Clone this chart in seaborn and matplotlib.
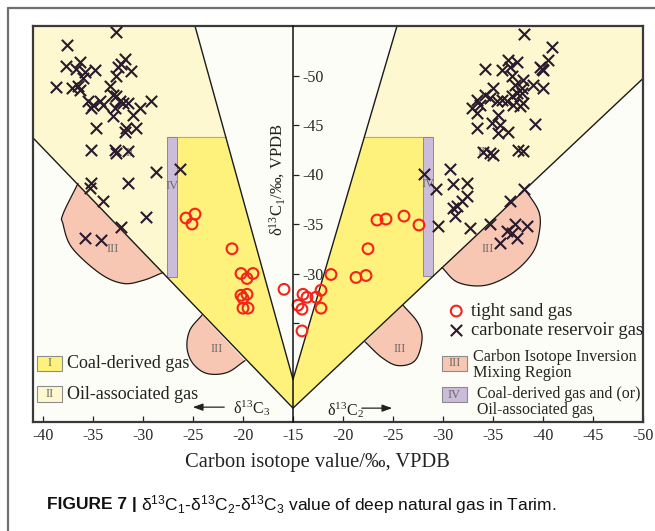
import numpy as np
import pandas as pd
import matplotlib
matplotlib.use("Agg")
import matplotlib.pyplot as plt
import seaborn as sns
from matplotlib.patches import Polygon, Rectangle
from matplotlib.lines import Line2D

# ---------------- data ----------------
# tight sand gas, left half (delta13C3) and right half (delta13C2)
tight_c3 = [-24.8, -25.7, -25.1, -21.1, -20.2, -19.0, -19.6, -20.2, -19.6, -20.0, -20.0, -19.5, -15.9]
tight_c3_c1 = [-36.0, -35.6, -35.0, -32.5, -30.0, -30.0, -29.5, -27.8, -27.9, -27.5, -26.5, -26.5, -28.4]
tight_c2 = [-15.5, -15.9, -16.0, -16.4, -17.3, -17.8, -17.8, -15.9, -18.8, -21.3, -22.3, -22.5,
            -23.4, -24.3, -26.1, -27.6]
tight_c2_c1 = [-26.8, -26.4, -27.9, -27.6, -27.6, -28.3, -26.5, -24.2, -29.9, -29.6, -29.8, -32.5,
               -35.4, -35.5, -35.8, -34.9]

# carbonate reservoir gas
carb_c3 = [-32.7, -37.6, -37.7, -36.3, -36.7, -35.8, -34.8, -36.0, -38.7, -37.1, -36.5, -36.3,
           -31.8, -32.2, -32.5, -31.2, -32.7, -33.3, -33.0, -32.7, -35.5, -35.0, -34.3, -34.0,
           -35.2, -32.3, -32.0, -31.5, -32.8, -30.3, -29.2, -31.0, -33.0, -34.7, -31.7, -30.7,
           -31.8, -35.2, -32.7, -31.5, -32.8, -28.7, -26.3, -35.2, -35.3, -31.5, -34.0, -29.7,
           -32.2, -35.8, -34.2]
carb_c3_c1 = [-54.4, -53.1, -51.0, -51.4, -50.7, -50.4, -50.6, -49.7, -48.8, -48.7, -48.9, -48.5,
              -51.7, -51.2, -50.9, -50.5, -50.0, -48.9, -48.0, -47.9, -47.4, -47.0, -47.4, -47.0,
              -46.7, -47.4, -47.2, -47.2, -46.7, -46.7, -47.4, -46.0, -45.9, -44.7, -44.7, -44.7,
              -44.3, -42.5, -42.2, -42.4, -42.5, -40.3, -40.6, -39.1, -38.6, -39.1, -37.3, -35.7,
              -34.7, -33.6, -33.4]
carb_c2 = [-38.1, -40.9, -34.2, -35.9, -36.5, -37.4, -36.7, -40.5, -39.7, -40.0, -39.9, -36.9,
           -38.0, -37.2, -37.9, -39.0, -40.0, -35.0, -34.2, -34.7, -35.4, -35.9, -36.4, -36.9,
           -37.4, -37.9, -37.0, -37.7, -38.0, -33.4, -32.9, -33.7, -33.4, -35.5, -34.9, -33.4,
           -35.7, -35.5, -36.5, -39.2, -34.0, -34.7, -35.0, -37.5, -38.0, -30.7, -31.0, -32.4,
           -32.4, -31.9, -31.4, -31.0, -31.2, -29.3, -36.7, -38.1, -29.5, -32.7, -34.7, -36.4,
           -37.2, -38.4, -37.4, -35.7, -36.9, -28.1]
carb_c2_c1 = [-54.2, -52.9, -50.7, -50.6, -51.6, -51.4, -50.9, -51.6, -50.9, -50.6, -50.7, -49.9,
              -49.5, -49.0, -48.7, -49.0, -48.7, -48.7, -48.0, -47.7, -47.4, -47.5, -47.4, -47.9,
              -48.2, -48.2, -47.0, -46.9, -47.2, -47.5, -46.7, -47.0, -46.2, -46.0, -45.2, -44.7,
              -45.0, -44.2, -44.3, -45.1, -42.3, -42.2, -42.0, -42.5, -42.4, -40.6, -39.0, -39.1,
              -37.8, -37.3, -36.8, -36.6, -35.8, -38.5, -37.3, -38.5, -34.8, -34.6, -35.0, -34.3,
              -35.0, -34.8, -33.6, -33.1, -34.1, -40.1]

# region boundaries (isotope values)
outer_left = ([-15.0, -41.0], [-16.4, -43.7])     # (d13C3, d13C1)
inner_left = ([-15.0, -24.8], [-19.3, -55.0])
inner_right = ([-15.0, -25.4], [-19.3, -55.0])    # (d13C2, d13C1)
outer_right = ([-15.0, -50.0], [-16.4, -49.7])
coal_top_c1 = -43.8
bar_left_c3 = [-27.6, -26.6]
bar_right_c2 = [-28.0, -29.0]

blob_ul = [(-36.5, -39.1), (-38.0, -36.0), (-38.0, -35.0), (-37.1, -32.6), (-34.3, -30.0),
           (-32.0, -29.0), (-30.0, -29.3), (-28.0, -30.1)]
blob_ll = [(-24.1, -25.8), (-25.3, -24.3), (-25.6, -22.5), (-25.0, -20.9), (-23.6, -19.9),
           (-21.6, -20.0), (-19.8, -21.2)]
blob_ur = [(-38.2, -38.5), (-39.6, -36.2), (-39.6, -34.0), (-38.9, -32.0), (-36.9, -30.0),
           (-34.2, -28.8), (-31.5, -29.1), (-29.9, -30.6)]
blob_lr = [(-26.0, -26.8), (-27.5, -25.0), (-27.9, -23.3), (-27.2, -21.2), (-25.5, -20.7),
           (-23.9, -21.5), (-22.2, -23.1)]

tick_values = [-40, -35, -30, -25, -20, -15, -20, -25, -30, -35, -40, -45, -50]
ytick_values = [-50, -45, -40, -35, -30, -25]
ytick_labels = ["-50", "-45", "-40", "-35", "-30", ""]

# ---------------- helpers ----------------
def c2pos(v):
    """delta13C2 value -> horizontal position on the right half."""
    return -30.0 - np.asarray(v, dtype=float)


def smooth(pts, n=16):
    pts = np.asarray(pts, dtype=float)
    P = np.vstack([2 * pts[0] - pts[1], pts, 2 * pts[-1] - pts[-2]])
    out = []
    t = np.linspace(0, 1, n, endpoint=False)[:, None]
    for i in range(1, len(P) - 2):
        p0, p1, p2, p3 = P[i - 1], P[i], P[i + 1], P[i + 2]
        out.append(0.5 * (2 * p1 + (-p0 + p2) * t + (2 * p0 - 5 * p1 + 4 * p2 - p3) * t ** 2
                          + (-p0 + 3 * p1 - 3 * p2 + p3) * t ** 3))
    out.append(P[-2][None])
    return np.vstack(out)


# ---------------- style ----------------
sns.set_theme(style="white")
plt.rcParams["font.family"] = ["Liberation Serif", "DejaVu Serif"]
plt.rcParams["mathtext.default"] = "regular"

C_COAL = "#fff27c"
C_OIL = "#fdf8cf"
C_MIX = "#f8c7b4"
C_IV = "#cbbcdb"
C_BG = "#fdfdf8"

fig = plt.figure(figsize=(6.55, 5.31), dpi=100)
ax = fig.add_axes([33 / 655, 1 - 422 / 531, 610 / 655, 396 / 531])
ax.set_facecolor(C_BG)
ax.set_xlim(-41, 20)
ax.set_ylim(-15, -55)

# ---- regions, left half (position == d13C3) ----
yo = lambda x: np.interp(x, outer_left[0][::-1], outer_left[1][::-1])
xi_l = np.interp(coal_top_c1, inner_left[1][::-1], inner_left[0][::-1])
ax.add_patch(Polygon([(outer_left[0][1], -55), (inner_left[0][1], -55),
                      (-15, inner_left[1][0]), (-15, outer_left[1][0]),
                      (outer_left[0][1], outer_left[1][1])],
                     closed=True, fc=C_OIL, ec="none", zorder=1))
ax.add_patch(Polygon([(bar_left_c3[0], coal_top_c1), (xi_l, coal_top_c1),
                      (-15, inner_left[1][0]), (-15, outer_left[1][0]),
                      (bar_left_c3[0], yo(bar_left_c3[0]))],
                     closed=True, fc=C_COAL, ec="none", zorder=1.2))
ax.plot([bar_left_c3[0], xi_l], [coal_top_c1, coal_top_c1], color="#a8a8a0", lw=0.8, zorder=1.3)
ax.add_patch(Rectangle((bar_left_c3[0], coal_top_c1), bar_left_c3[1] - bar_left_c3[0],
                       yo(bar_left_c3[0]) - coal_top_c1, fc=C_IV, ec="#8a8a90", lw=0.7, zorder=1.4))

# ---- regions, right half ----
op = c2pos(outer_right[0])
ip = c2pos(inner_right[0])
yor = lambda x: np.interp(x, op, outer_right[1])
xi_r = np.interp(coal_top_c1, inner_right[1][::-1], ip[::-1])
bp = c2pos(bar_right_c2)
ax.add_patch(Polygon([(ip[1], -55), (op[1], -55), (op[1], outer_right[1][1]),
                      (-15, outer_right[1][0]), (-15, inner_right[1][0])],
                     closed=True, fc=C_OIL, ec="none", zorder=1))
ax.add_patch(Polygon([(xi_r, coal_top_c1), (bp[1], coal_top_c1), (bp[1], yor(bp[1])),
                      (-15, outer_right[1][0]), (-15, inner_right[1][0])],
                     closed=True, fc=C_COAL, ec="none", zorder=1.2))
ax.plot([xi_r, bp[1]], [coal_top_c1, coal_top_c1], color="#a8a8a0", lw=0.8, zorder=1.3)
ax.add_patch(Rectangle((bp[0], coal_top_c1), bp[1] - bp[0], yor(bp[1]) - coal_top_c1,
                       fc=C_IV, ec="#8a8a90", lw=0.7, zorder=1.4))

# ---- mixing blobs ----
for pts, right in [(blob_ul, False), (blob_ll, False), (blob_ur, True), (blob_lr, True)]:
    arr = np.asarray(pts, dtype=float)
    if right:
        arr[:, 0] = c2pos(arr[:, 0])
    curve = smooth(arr)
    ax.add_patch(Polygon(curve, closed=True, fc=C_MIX, ec="none", zorder=1.5))
    ax.plot(curve[:, 0], curve[:, 1], color="#1a1a1a", lw=0.9, zorder=1.6)

# ---- boundary lines ----
for xs, ys in [outer_left, inner_left]:
    ax.plot(xs, ys, color="#1a1a1a", lw=1.0, zorder=2)
for xs, ys in [outer_right, inner_right]:
    ax.plot(c2pos(xs), ys, color="#1a1a1a", lw=1.0, zorder=2)

# ---- region numerals ----
num_kw = dict(color="#6e6a66", fontsize=9, ha="center", va="center", zorder=1.7)
ax.text(-33.0, -32.5, "III", **num_kw)
ax.text(-22.6, -22.4, "III", **num_kw)
ax.text(4.5, -32.5, "III", **num_kw)
ax.text(-4.3, -22.4, "III", **num_kw)
ax.text(-27.1, -38.8, "IV", **num_kw)
ax.text(-1.5, -39.0, "IV", **num_kw)
ax.text(-31.3, -42.2, "II", **num_kw)
ax.text(3.9, -42.3, "II", **num_kw)

# ---------------- points (seaborn) ----------------
tight = pd.DataFrame({"pos": np.concatenate([np.asarray(tight_c3), c2pos(tight_c2)]),
                      "c1": tight_c3_c1 + tight_c2_c1})
carb = pd.DataFrame({"pos": np.concatenate([np.asarray(carb_c3), c2pos(carb_c2)]),
                     "c1": carb_c3_c1 + carb_c2_c1})
sns.scatterplot(data=carb, x="pos", y="c1", marker="x", s=66, color="#2a1a2c",
                linewidth=1.5, ax=ax, zorder=3, label="carbonate reservoir gas")
sns.scatterplot(data=tight, x="pos", y="c1", marker="o", s=60, facecolors="none",
                edgecolors="#f5231a", linewidth=1.5, ax=ax, zorder=3.1, label="tight sand gas")
for coll in ax.collections[-1:]:
    coll.set_facecolor("none")
    coll.set_edgecolor("#f5231a")

h, l = ax.get_legend_handles_labels()
order = [l.index("tight sand gas"), l.index("carbonate reservoir gas")]
leg = ax.legend([h[i] for i in order], [l[i] for i in order], loc="center left",
                bbox_to_anchor=((447 - 33) / 610, (422 - 321) / 396), frameon=False,
                fontsize=13.3, handlelength=1.0, handletextpad=0.3, labelspacing=0.12,
                borderpad=0, borderaxespad=0)
for txt in leg.get_texts():
    txt.set_color("#222")

# ---------------- legend boxes ----------------
box_kw = dict(ec="#8c8c8c", lw=0.8, zorder=4)
ax.add_patch(Rectangle((-40.6, -20.2), 2.5, -1.5, fc=C_COAL, **box_kw))
ax.add_patch(Rectangle((-40.6, -17.0), 2.5, -1.6, fc=C_OIL, **box_kw))
ax.add_patch(Rectangle((-0.1, -20.2), 2.5, -1.5, fc=C_MIX, **box_kw))
ax.add_patch(Rectangle((-0.1, -17.0), 2.5, -1.5, fc=C_IV, **box_kw))
ax.text(-39.35, -20.95, "I", **{**num_kw, "zorder": 5})
ax.text(-39.35, -17.8, "II", **{**num_kw, "zorder": 5})
ax.text(1.15, -20.95, "III", **{**num_kw, "zorder": 5})
ax.text(1.15, -17.75, "IV", **{**num_kw, "zorder": 5})
ax.text(-37.6, -20.9, "Coal-derived gas", fontsize=13, va="center", ha="left", color="#222")
ax.text(-37.6, -17.75, "Oil-associated gas", fontsize=13, va="center", ha="left", color="#222")
ax.text(3.0, -21.6, "Carbon Isotope Inversion", fontsize=11.6, va="center", ha="left", color="#222")
ax.text(3.0, -19.9, "Mixing Region", fontsize=11.6, va="center", ha="left", color="#222")
ax.text(3.4, -17.85, "Coal-derived gas and (or)", fontsize=11.4, va="center", ha="left", color="#222")
ax.text(3.4, -16.2, "Oil-associated gas", fontsize=11.4, va="center", ha="left", color="#222")

# ---------------- direction arrows ----------------
ax.annotate("", xy=(-25.3, -16.5), xytext=(-21.6, -16.5),
            arrowprops=dict(arrowstyle="-|>,head_length=0.5,head_width=0.18", color="#222", lw=0.9))
ax.text(-21.0, -16.4, r"δ$^{13}$C$_{3}$", fontsize=11.5, va="center", ha="left", color="#222")
ax.text(-11.6, -16.2, r"δ$^{13}$C$_{2}$", fontsize=11.5, va="center", ha="left", color="#222")
ax.annotate("", xy=(-4.8, -16.4), xytext=(-8.4, -16.4),
            arrowprops=dict(arrowstyle="-|>,head_length=0.5,head_width=0.18", color="#222", lw=0.9))

# ---------------- axes ----------------
ax.set_xticks(np.arange(-40, 21, 5))
ax.set_xticklabels([str(v) for v in tick_values])
ax.set_yticks([])
ax.tick_params(axis="x", direction="in", length=4, width=0.9, color="#222",
               labelsize=11.5, pad=4, bottom=True)
for s in ax.spines.values():
    s.set_color("#3a3a3a")
    s.set_linewidth(1.6)
    s.set_visible(True)
ax.set_xlabel("Carbon isotope value/‰, VPDB", fontsize=14.8, color="#222")
ax.xaxis.set_label_coords((317 - 33) / 610, (422 - 453) / 396)
ax.set_ylabel("")

ax2 = ax.twinx()
ax2.set_ylim(-15, -55)
for s in ["top", "bottom", "left"]:
    ax2.spines[s].set_visible(False)
ax2.spines["right"].set_position(("data", -15))
ax2.spines["right"].set_color("#111")
ax2.spines["right"].set_linewidth(1.1)
ax2.set_yticks(ytick_values)
ax2.set_yticklabels(ytick_labels)
ax2.tick_params(axis="y", direction="out", length=4, width=0.9, color="#222",
                labelsize=11.5, pad=3, right=True)
ax2.grid(False)
ax.text(-16.6, -39.5, r"δ$^{13}$C$_{1}$/‰, VPDB", rotation=90, fontsize=12,
        ha="center", va="center", color="#222")

# ---------------- outer frame & caption ----------------
fig.add_artist(Line2D([8 / 655, 1], [1 - 8 / 531, 1 - 8 / 531], color="#707070", lw=1.6))
fig.add_artist(Line2D([8 / 655, 8 / 655], [0, 1 - 8 / 531], color="#707070", lw=1.6))

cap_y = 1 - 505 / 531
t1 = fig.text(47 / 655, cap_y, "FIGURE 7 |", fontsize=12.5, fontweight="bold",
              family=["Liberation Sans", "DejaVu Sans"], va="center", ha="left", color="#111")
fig.canvas.draw()
bb = t1.get_window_extent(renderer=fig.canvas.get_renderer())
x2 = (bb.x1 + 4) / fig.bbox.width
fig.text(x2, cap_y,
         r"δ$^{13}$C$_{1}$-δ$^{13}$C$_{2}$-δ$^{13}$C$_{3}$ value of deep natural gas in Tarim.",
         fontsize=12.5, family=["Liberation Sans", "DejaVu Sans"], va="center", ha="left", color="#111")

fig.savefig("out.png", dpi=100)
